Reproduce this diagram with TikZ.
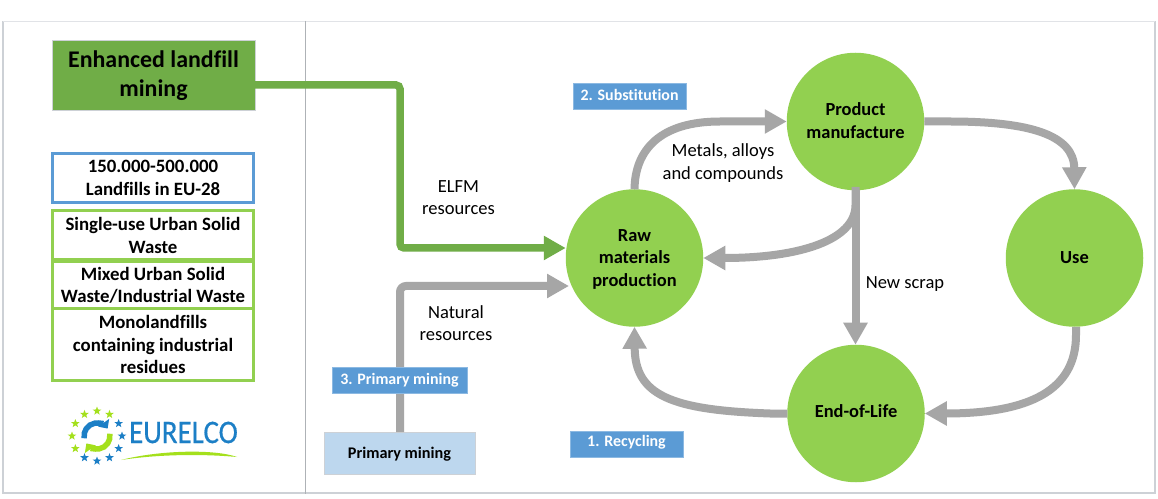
\documentclass[tikz,border=0pt]{standalone}
\usepackage{fontspec}
\setmainfont[Ligatures=CommonOff]{Carlito}
\usetikzlibrary{arrows.meta,shapes.geometric}
\definecolor{cgreen}{HTML}{92D050}
\definecolor{dgreen}{HTML}{70AD47}
\definecolor{cblue}{HTML}{5B9BD5}
\definecolor{lblue}{HTML}{BDD7EE}
\definecolor{cgrey}{HTML}{A6A6A6}
\definecolor{frame}{HTML}{CDD1D6}
\definecolor{lgblue}{HTML}{1C7FC6}
\definecolor{lggreen}{HTML}{A4E01C}
\tikzset{
  x=1bp,y=-1bp,
  every node/.style={inner sep=0pt,outer sep=0pt,align=center,text=black},
  circ/.style={circle,fill=cgreen,minimum size=137.5bp,font=\fontsize{18.5}{22.5}\selectfont\bfseries},
  lab/.style={font=\fontsize{18.6}{22.5}\selectfont},
  tag/.style={rectangle,fill=cblue,draw=cblue!70!white,line width=.8bp,font=\fontsize{16}{18}\selectfont\bfseries,text=white},
  bluebox/.style={rectangle,draw=cblue,line width=3bp,fill=white,font=\fontsize{18.9}{22.3}\selectfont\bfseries},
  greenbox/.style={rectangle,draw=cgreen,line width=3bp,fill=white,font=\fontsize{18.9}{22.3}\selectfont\bfseries},
  flow/.style={draw=cgrey,line width=8bp,-{Triangle[length=22bp,width=23bp]}},
  gflow/.style={draw=dgreen,line width=7.5bp,-{Triangle[length=22bp,width=23bp]}},
  lstar/.style={star,star points=5,star point ratio=2.4,minimum size=9bp,draw=none},
}
\begin{document}
\begin{tikzpicture}
\useasboundingbox (0,0) rectangle (1158,499);
\fill[white] (0,0) rectangle (1158,499);
% frame
\draw[frame,line width=1.4bp] (3,21.5) rectangle (1155,493);
\draw[frame!60!white,line width=1.5bp] (3,21.5) -- (1155,21.5);
\coordinate (divT) at (305,21);
\coordinate (divB) at (305,494);
\draw[frame!85!black,line width=1bp] (divT) -- (divB);
% left boxes
\node[rectangle,fill=dgreen,draw=frame,line width=.8bp,minimum width=203bp,minimum height=70bp,font=\fontsize{24}{29}\selectfont\bfseries,text depth=2.3bp] (elfm) at (153.5,75) {Enhanced landfill\\mining};
\node[bluebox,minimum width=201bp,minimum height=49bp] (count) at (153,178) {150.000-500.000\\Landfills in EU-28};
\node[greenbox,minimum width=201bp,minimum height=49bp] (g1) at (153,235.5) {Single-use Urban Solid\\Waste};
\node[greenbox,minimum width=201bp,minimum height=47bp] (g2) at (153,285.5) {Mixed Urban Solid\\Waste/Industrial Waste};
\node[greenbox,minimum width=201bp,minimum height=71bp] (g3) at (153,344.5) {Monolandfills\\containing industrial\\residues};
% circles
\node[circ,text depth=0bp] (raw) at (634.5,258) {Raw\\materials\\production};
\node[circ,text depth=2bp] (prod) at (855.5,121.5) {Product\\manufacture};
\node[circ] (use) at (1074.5,258) {Use};
\node[circ,text height=12.5bp,text depth=4bp] (eol) at (856,413.5) {End-of-Life};
% primary mining
\node[rectangle,fill=lblue,draw=frame,line width=.8bp,minimum width=151bp,minimum height=42bp,font=\fontsize{16.3}{18}\selectfont\bfseries,text height=11.5bp,text depth=1.5bp] (pm) at (399.5,453) {Primary mining};
\coordinate (gk) at (400,85);
\coordinate (nk) at (400,286);
% connectors
\draw[gflow,rounded corners=4bp] (elfm.east |- 0,85) -- (gk) -- (400,248) -- (raw.west |- 0,248);
\draw[flow,rounded corners=6bp] (pm.north -| nk) -- (nk) -- (569,286);
\draw[flow] (raw.90) .. controls (635,150) and (660,121.5) .. (720,121.5) -- (prod.west);
\draw[flow] (855.5,187) -- (855.5,205) .. controls (855.5,240) and (800,258) .. (raw.east);
\draw[flow] (prod.south) -- (eol.north -| prod.south);
\draw[flow] (prod.east) -- (950,121.5) .. controls (1030,121.5) and (1074,135) .. (use.north);
\draw[flow] (use.south -| 1076,0) -- (1076,335) .. controls (1076,390) and (1030,413.5) .. (eol.east);
\draw[flow] (eol.west) -- (770,413.5) .. controls (670,410) and (635,395) .. (raw.south);
% tags
\node[tag,minimum width=113bp,minimum height=26bp,text height=11.5bp,text depth=2.5bp] (t2) at (629.5,96) {2. Substitution};
\node[tag,minimum width=135bp,minimum height=26bp] (t3) at (399.5,380) {3. Primary mining};
\node[tag,minimum width=113bp,minimum height=26bp,text height=11.5bp,text depth=7bp] (t1) at (626.5,444) {1. Recycling};
% labels
\node[lab] (l1) at (458.5,197.5) {ELFM\\resources};
\node[lab] (l2) at (456,323) {Natural\\resources};
\node[lab] (l3) at (723,163) {Metals, alloys\\and compounds};
\node[lab] (l4) at (905,284.5) {New scrap};
% logo
\foreach \a/\c in {0/lgblue,30/lgblue,60/lggreen,90/lggreen,120/lggreen,150/lggreen,180/lggreen,210/lggreen,240/lgblue,270/lgblue,300/lgblue,330/lgblue}{
  \node[lstar,fill=\c] at ({97+25*cos(\a)},{436-25*sin(\a)}) {};
}
\draw[lgblue,line width=5.5bp,-{Triangle[length=7bp,width=13bp]}] (97,436) ++(-190:13) arc[start angle=-190,end angle=-35,radius=13];
\draw[lggreen,line width=5.5bp,-{Triangle[length=7bp,width=13bp]}] (97,436) ++(-10:13) arc[start angle=-10,end angle=145,radius=13];
\node[font=\fontsize{33}{33}\selectfont\addfontfeature{FakeBold=0.6},text=lgblue,xscale=.88] (logo) at (183.5,432.5) {EURELCO};
\fill[lggreen] (121,460) .. controls (160,450) and (215,449) .. (237,457) .. controls (205,454) and (160,454) .. (121,460) -- cycle;
\end{tikzpicture}
\end{document}
